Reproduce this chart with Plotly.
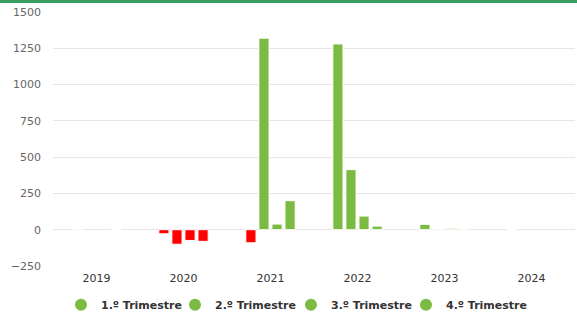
import plotly.graph_objects as go

years = ["2019", "2020", "2021", "2022", "2023", "2024"]
q1 = [5, -28, -90, 1280, 37, 0]
q2 = [None, -100, 1320, 414, 5, None]
q3 = [None, -74, 39, 94, 10, None]
q4 = [0, -80, 200, 25, 5, None]
series_names = ["1.º Trimestre", "2.º Trimestre", "3.º Trimestre", "4.º Trimestre"]
y_ticks = [-250, 0, 250, 500, 750, 1000, 1250, 1500]

GREEN = "#7cbb42"
RED = "#ff0000"

fig = go.Figure()
for name, vals in zip(series_names, [q1, q2, q3, q4]):
    colors = [RED if (v is not None and v < 0) else GREEN for v in vals]
    fig.add_trace(go.Bar(
        x=years, y=vals, name=name, showlegend=False,
        marker=dict(color=colors, line=dict(color="white", width=1)),
        hoverinfo="x+y",
    ))
legend_ids = ["legend", "legend2", "legend3", "legend4"]
for lid, name in zip(legend_ids, series_names):
    fig.add_trace(go.Scatter(
        x=[None], y=[None], mode="markers", name=name, legend=lid,
        marker=dict(color=GREEN, size=11, symbol="circle"),
    ))

legend_font = dict(family="DejaVu Sans", size=11, color="#333333", weight="bold")
legend_x = [0.0153, 0.2337, 0.4559, 0.6762]
legends = {
    lid: dict(orientation="h", x=lx, xanchor="left", y=-0.153, yanchor="middle",
              font=legend_font, itemsizing="constant",
              bgcolor="rgba(0,0,0,0)", borderwidth=0)
    for lid, lx in zip(legend_ids, legend_x)
}

fig.update_layout(
    width=577, height=316,
    margin=dict(l=53, r=2, t=12, b=50, autoexpand=False),
    paper_bgcolor="white", plot_bgcolor="white",
    barmode="group", bargap=0.4, bargroupgap=0.22,
    font=dict(family="DejaVu Sans", size=11, color="#333333"),
    showlegend=True,
    xaxis=dict(
        type="category", showgrid=False, zeroline=False, showline=False,
        tickfont=dict(family="DejaVu Sans", size=11, color="#333333"),
        ticks="", ticklabelstandoff=4, automargin=False,
    ),
    yaxis=dict(
        range=[-250, 1500], tickvals=y_ticks, showgrid=True, gridcolor="#e6e6e6",
        gridwidth=1, zeroline=False, showline=False,
        tickfont=dict(family="DejaVu Sans", size=11, color="#666666"),
        ticklabelstandoff=11, automargin=False,
    ),
    shapes=[dict(
        type="rect", xref="paper", yref="paper", ysizemode="pixel", yanchor=1,
        x0=-0.2, x1=1.1, y0=9, y1=20, fillcolor="#389e64", line=dict(width=0),
        layer="above",
    )],
    **legends,
)

fig.write_html(
    "out.html",
    config={"displayModeBar": False},
    post_script="document.body.style.margin='0';document.body.style.padding='0';",
)
